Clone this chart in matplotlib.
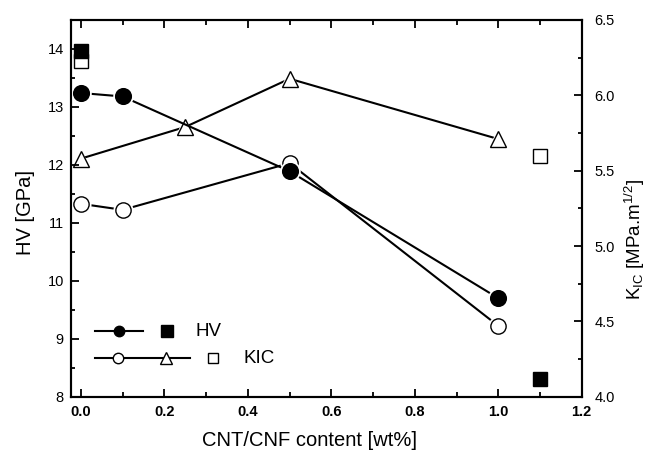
import matplotlib
matplotlib.use("Agg")
import matplotlib.pyplot as plt
from matplotlib.ticker import MultipleLocator

plt.rcParams['font.family'] = ['Liberation Sans', 'DejaVu Sans']
plt.rcParams['mathtext.fontset'] = 'custom'
plt.rcParams['mathtext.rm'] = 'Liberation Sans'
plt.rcParams['mathtext.it'] = 'Liberation Sans:italic'
plt.rcParams['font.size'] = 10.5

# ---- data ----
x_hv = [0.0, 0.1, 0.5, 1.0]
hv = [13.24, 13.18, 11.89, 9.70]
x_hv_ref = [0.0, 1.1]
hv_ref = [13.96, 8.30]

x_kic_circ = [0.0, 0.1, 0.5, 1.0]
kic_circ = [5.28, 5.24, 5.55, 4.47]
x_kic_tri = [0.0, 0.25, 0.5, 1.0]
kic_tri = [5.58, 5.79, 6.11, 5.71]
x_kic_ref = [0.0, 1.1]
kic_ref = [6.23, 5.60]

xticks = [0.0, 0.2, 0.4, 0.6, 0.8, 1.0, 1.2]
yticks_hv = [8, 9, 10, 11, 12, 13, 14]
yticks_kic = [4.0, 4.5, 5.0, 5.5, 6.0, 6.5]

fig = plt.figure(figsize=(6.47, 4.54), dpi=100)
ax = fig.add_axes([0.1093, 0.1262, 0.7898, 0.8298])
ax2 = ax.twinx()

LW = 1.5
halo_extra = 3.5

def series(a, x, y, marker, ms, filled, z):
    a.plot(x, y, '-', color='black', lw=LW, zorder=z, solid_capstyle='butt')
    a.plot(x, y, linestyle='none', marker=marker, ms=ms + halo_extra,
           mfc='white', mec='white', mew=0, zorder=z + 0.1)
    a.plot(x, y, linestyle='none', marker=marker, ms=ms,
           mfc='black' if filled else 'white', mec='black', mew=1.0,
           zorder=z + 0.2)

ax2.set_zorder(1)
ax.set_zorder(2)
ax.patch.set_visible(False)

series(ax2, x_kic_tri, kic_tri, '^', 11.5, False, 2)
series(ax2, x_kic_circ, kic_circ, 'o', 11, False, 3)
ax2.plot(x_kic_ref, kic_ref, linestyle='none', marker='s', ms=9.6,
         mfc='white', mec='black', mew=1.0, zorder=4)

series(ax, x_hv, hv, 'o', 11.3, True, 2)
ax.plot(x_hv_ref, hv_ref, linestyle='none', marker='s', ms=10,
        mfc='black', mec='black', zorder=4)

ax.set_xlim(-0.0245, 1.2)
ax.set_ylim(8, 14.5)
ax2.set_ylim(4.0, 6.5)

ax.set_xticks(xticks)
ax.set_xticklabels([f"{v:.1f}" for v in xticks], fontweight='bold')
ax.xaxis.set_minor_locator(MultipleLocator(0.1))
ax.set_yticks(yticks_hv)
ax.set_yticklabels([str(v) for v in yticks_hv])
ax.yaxis.set_minor_locator(MultipleLocator(0.5))
ax2.set_yticks(yticks_kic)
ax2.set_yticklabels([f"{v:.1f}" for v in yticks_kic])
ax2.yaxis.set_minor_locator(MultipleLocator(0.25))

ax.tick_params(axis='x', which='both', direction='in', top=True, bottom=True,
               width=1.3, pad=6)
ax.tick_params(axis='x', which='major', length=5.5)
ax.tick_params(axis='x', which='minor', length=3.5)
ax.tick_params(axis='y', which='both', direction='in', left=True, right=False,
               width=1.3, pad=5)
ax.tick_params(axis='y', which='major', length=5.5)
ax.tick_params(axis='y', which='minor', length=3)
ax2.tick_params(axis='y', which='both', direction='in', right=True, left=False,
                width=1.3, pad=9)
ax2.tick_params(axis='y', which='major', length=5.5)
ax2.tick_params(axis='y', which='minor', length=3)

for a in (ax, ax2):
    for s in a.spines.values():
        s.set_linewidth(1.5)

ax.set_xlabel('CNT/CNF content [wt%]', fontsize=14.5)
ax.xaxis.set_label_coords(0.468, -0.092)
ax.set_ylabel('HV [GPa]', fontsize=14.5)
ax.yaxis.set_label_coords(-0.07, 0.49)
ax2.set_ylabel(r'K$_{\mathrm{IC}}$ [MPa.m$^{1/2}$]', fontsize=13.5)
ax2.yaxis.set_label_coords(1.081, 0.416)

# ---- custom legend (axes coordinates) ----
T = ax.transAxes
r1, r2 = 0.1744, 0.1027
ax.plot([0.0476, 0.1415], [r1, r1], color='black', lw=LW, transform=T, zorder=5)
ax.plot([0.0951], [r1], marker='o', ms=7.5, color='black', transform=T, zorder=6)
ax.plot([0.1885], [r1], marker='s', ms=8.2, color='black', transform=T, zorder=6)
ax.text(0.2433, r1, 'HV', transform=T, fontsize=13.5, va='center', ha='left')

ax.plot([0.0476, 0.2335], [r2, r2], color='black', lw=LW, transform=T, zorder=5)
ax.plot([0.0926], [r2], marker='o', ms=7.5, mfc='white', mec='black', mew=1.0,
        transform=T, zorder=6)
ax.plot([0.1865], [r2], marker='^', ms=8.5, mfc='white', mec='black', mew=1.0,
        transform=T, zorder=6)
ax.plot([0.2785], [r2], marker='s', ms=7.2, mfc='white', mec='black', mew=1.0,
        transform=T, zorder=6)
ax.text(0.3372, r2, 'KIC', transform=T, fontsize=13.5, va='center', ha='left')

fig.savefig('out.png', dpi=100)
